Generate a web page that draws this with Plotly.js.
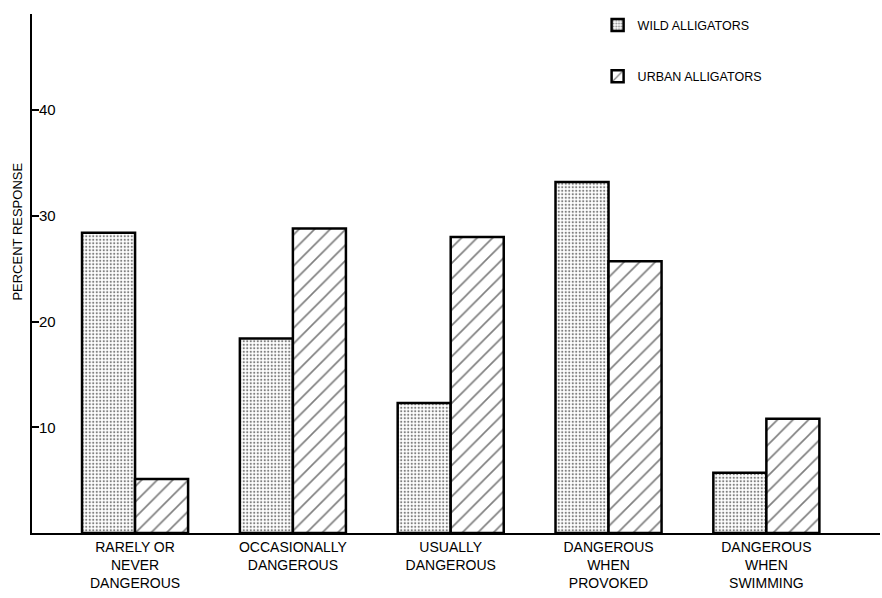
<!DOCTYPE html>
<html>
<head>
<meta charset="utf-8">
<script src="https://cdn.plot.ly/plotly-3.0.1.min.js"></script>
<style>
html,body{margin:0;padding:0;background:#fff;}
#chart{width:882px;height:598px;}
</style>
</head>
<body>
<div id="chart"></div>
<script>
var categories = ['RARELY OR<br>NEVER<br>DANGEROUS', 'OCCASIONALLY<br>DANGEROUS', 'USUALLY<br>DANGEROUS', 'DANGEROUS<br>WHEN<br>PROVOKED', 'DANGEROUS<br>WHEN<br>SWIMMING'];
var wildValues = [28.4, 18.4, 12.3, 33.2, 5.7];
var urbanValues = [5.1, 28.8, 28.0, 25.7, 10.8];
var seriesNames = ['WILD ALLIGATORS', 'URBAN ALLIGATORS'];
var yTickVals = [10, 20, 30, 40];
var yTickText = ['10', '20', '30', '40'];
var yTitle = 'PERCENT RESPONSE';

var FONT = '"Liberation Sans", Arial, sans-serif';

var traces = [
  {
    type: 'bar', name: seriesNames[0], x: categories, y: wildValues,
    legendgroup: 'a',
    marker: {
      color: '#ffffff',
      line: {color: '#000', width: 2.5},
      pattern: {shape: '.', size: 3.5, solidity: 0.32, fgcolor: '#000', bgcolor: '#fff', fillmode: 'overlay'}
    },
    hoverinfo: 'skip'
  },
  {
    type: 'bar', name: seriesNames[1], x: categories, y: urbanValues,
    legendgroup: 'b',
    marker: {
      color: '#ffffff',
      line: {color: '#000', width: 2.5},
      pattern: {shape: '/', size: 11, solidity: 0.15, fgcolor: '#000', bgcolor: '#fff', fillmode: 'overlay'}
    },
    hoverinfo: 'skip'
  }
];

var layout = {
  width: 882, height: 598,
  margin: {l: 32, r: 2, t: 14, b: 65},
  paper_bgcolor: '#fff', plot_bgcolor: '#fff',
  font: {family: FONT, color: '#000', size: 14},
  barmode: 'group', bargap: 0.328, bargroupgap: 0,
  showlegend: true,
  legend: {
    x: 0.667, xanchor: 'left', y: 1.007, yanchor: 'top',
    bgcolor: 'rgba(0,0,0,0)', borderwidth: 0,
    font: {family: FONT, size: 12.5, color: '#000'},
    tracegroupgap: 32, itemwidth: 30, traceorder: 'grouped'
  },
  xaxis: {
    type: 'category',
    range: [-0.653, 4.72],
    showline: true, linecolor: '#000', linewidth: 2,
    showgrid: false, zeroline: false, ticks: '',
    tickfont: {family: FONT, size: 14, color: '#000'},
    fixedrange: true
  },
  yaxis: {
    range: [0, 49.08],
    showline: true, linecolor: '#000', linewidth: 2,
    showgrid: false, zeroline: false,
    tickvals: yTickVals, ticktext: yTickText,
    ticks: 'inside', ticklen: 7, tickwidth: 2, tickcolor: '#000',
    ticklabelposition: 'inside',
    tickfont: {family: FONT, size: 15, color: '#000'},
    fixedrange: true
  },
  annotations: [
    {
      text: yTitle, xref: 'paper', yref: 'y', x: 0, y: 28.5,
      xanchor: 'center', yanchor: 'middle', xshift: -14,
      textangle: -90, showarrow: false,
      font: {family: FONT, size: 13, color: '#000'}
    }
  ]
};

Plotly.newPlot('chart', traces, layout, {displayModeBar: false, staticPlot: true});
</script>
</body>
</html>
